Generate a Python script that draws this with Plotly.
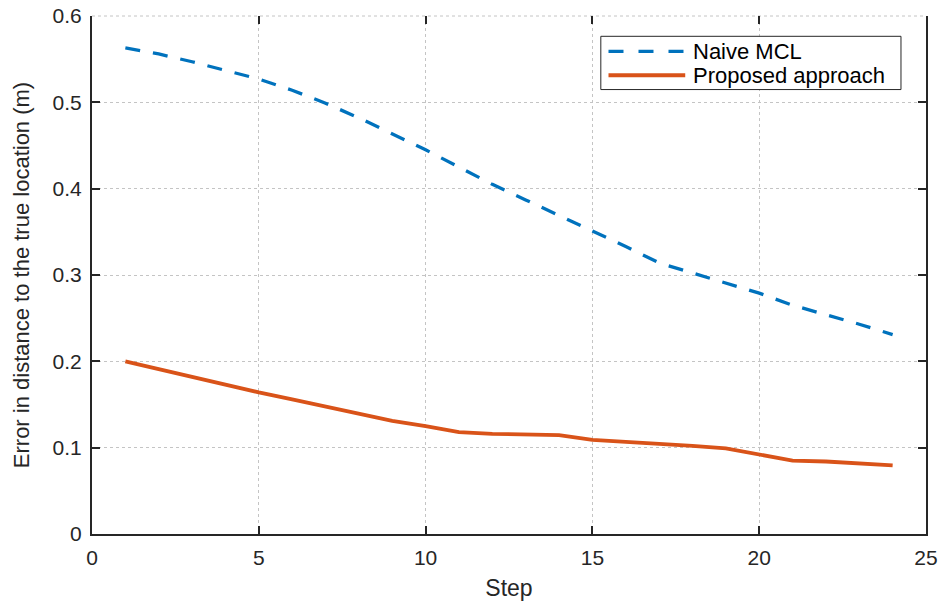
import plotly.graph_objects as go

steps = list(range(1, 25))
naive_mcl = [0.563, 0.556, 0.547, 0.537, 0.527, 0.514, 0.499, 0.482, 0.464, 0.445,
             0.425, 0.405, 0.387, 0.369, 0.352, 0.333, 0.314, 0.302, 0.290, 0.279,
             0.265, 0.254, 0.243, 0.231]
proposed = [0.200, 0.191, 0.181, 0.173, 0.164, 0.156, 0.148, 0.139, 0.131, 0.125,
            0.118, 0.116, 0.115, 0.1146, 0.109, 0.107, 0.105, 0.102, 0.0992, 0.092,
            0.085, 0.084, 0.082, 0.0795]
series_names = ["Naive MCL", "Proposed approach"]
x_ticks = [0, 5, 10, 15, 20, 25]
y_ticks = [0, 0.1, 0.2, 0.3, 0.4, 0.5, 0.6]
y_tick_labels = ["0", "0.1", "0.2", "0.3", "0.4", "0.5", "0.6"]

BLUE = "#0072BD"
ORANGE = "#D95319"
INK = "#262626"
FONT = "Liberation Sans, Arial, sans-serif"

fig = go.Figure()
fig.add_trace(go.Scatter(x=steps, y=naive_mcl, mode="lines", name=series_names[0],
                         line=dict(color=BLUE, width=3.3, dash="15px,13px"),
                         showlegend=False))
fig.add_trace(go.Scatter(x=steps, y=proposed, mode="lines", name=series_names[1],
                         line=dict(color=ORANGE, width=3.8),
                         showlegend=False))
# invisible trace to carry top ticks
fig.add_trace(go.Scatter(x=[0], y=[0], xaxis="x2", yaxis="y", mode="markers",
                         marker=dict(opacity=0), showlegend=False, hoverinfo="skip"))

fig.update_layout(
    width=943, height=601,
    margin=dict(l=92, r=17, t=16, b=67),
    paper_bgcolor="white", plot_bgcolor="white",
    font=dict(family=FONT, color=INK, size=21),
    xaxis=dict(range=[0, 25], tickvals=x_ticks, ticks="inside", ticklen=8, tickwidth=2,
               tickcolor=INK, showline=True, linecolor=INK, linewidth=2, mirror=False,
               showgrid=True, gridcolor="#c4c4c4", gridwidth=1, griddash="dot",
               zeroline=False, tickfont=dict(size=21, color=INK), automargin=False,
               ticklabelstandoff=4,
               title=dict(text="Step", font=dict(size=23, color=INK), standoff=12)),
    xaxis2=dict(range=[0, 25], tickvals=x_ticks, ticks="inside", ticklen=8, tickwidth=2,
                tickcolor=INK, overlaying="x", side="top", showticklabels=False,
                showgrid=False, showline=False, zeroline=False, anchor="y"),
    yaxis=dict(range=[0, 0.6], tickvals=y_ticks, ticktext=y_tick_labels, ticks="inside",
               ticklen=8, tickwidth=2, tickcolor=INK, showline=True, linecolor=INK,
               linewidth=2, mirror="ticks", showgrid=True, gridcolor="#c4c4c4",
               gridwidth=1, griddash="dot", zeroline=False, automargin=False,
               tickfont=dict(size=21, color=INK), ticklabelstandoff=4,
               title=dict(text="Error in distance to the true location (m)",
                          font=dict(size=22, color=INK), standoff=17)),
)

# top border as grey dotted line (grid at 0.6)
fig.add_shape(type="line", xref="paper", yref="paper", x0=0, x1=1, y0=1, y1=1,
              line=dict(color="#c4c4c4", width=1, dash="dot"), layer="below")

# legend box drawn manually
lx0, lx1, ly0, ly1 = 0.6101, 0.9700, 0.858, 0.9608
rows = [0.9319, 0.8856]
sx0, sx1, tx = 0.6193, 0.7113, 0.7185
fig.add_shape(type="rect", xref="paper", yref="paper", x0=lx0, x1=lx1, y0=ly0, y1=ly1,
              line=dict(color=INK, width=1), fillcolor="white", layer="above")
styles = [dict(color=BLUE, width=3.3, dash="15px,15px"), dict(color=ORANGE, width=3.8)]
for name, yy, st in zip(series_names, rows, styles):
    fig.add_shape(type="line", xref="paper", yref="paper", x0=sx0, x1=sx1, y0=yy, y1=yy,
                  line=st, layer="above")
    fig.add_annotation(xref="paper", yref="paper", x=tx, y=yy, text=name,
                       showarrow=False, xanchor="left", yanchor="middle",
                       font=dict(size=22, color="black", family=FONT))

fig.write_html("out.html", config={"displayModeBar": False},
               post_script="document.body.style.margin='0';document.body.style.overflow='hidden';")
